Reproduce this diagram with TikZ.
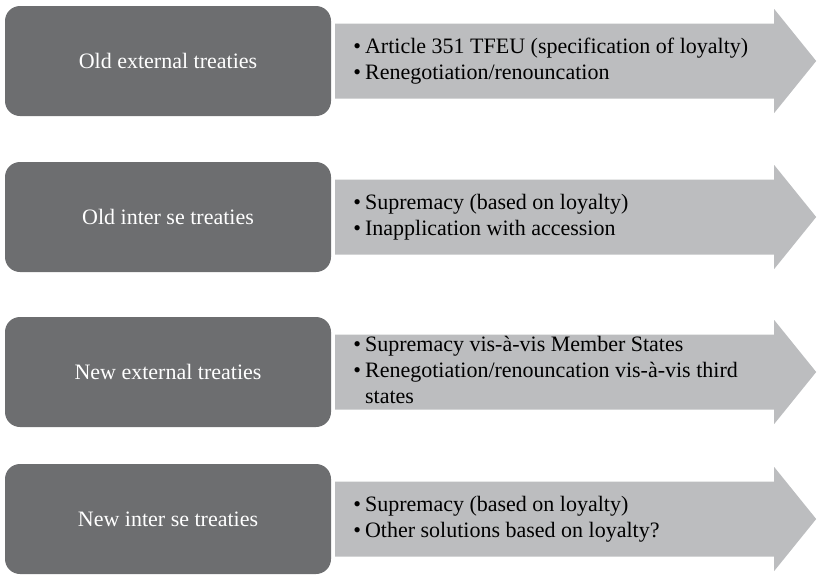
\documentclass[tikz,border=0pt]{standalone}
\usepackage{fontspec}
\setmainfont{Liberation Serif}
\usetikzlibrary{positioning}
\definecolor{boxgray}{HTML}{6D6E70}
\definecolor{arrowgray}{HTML}{BCBDBF}
\tikzset{
  treaty/.style={fill=boxgray, rounded corners=15pt, minimum width=326pt,
    minimum height=110pt, text=white, font=\fontsize{22}{26}\selectfont},
  points/.style={right=22pt of #1, inner sep=0pt, text=black,
    font=\fontsize{22}{26}\selectfont},
  shaft/.style={fill=arrowgray}
}

\begin{document}
\begin{tikzpicture}[x=1pt, y=-1pt]
        \useasboundingbox (0,0) rectangle (817,574);
        % left boxes
        \node[treaty] (oldext) at (168,61) {Old external treaties};
        \node[treaty] (oldinter) at (168,217) {Old inter se treaties};
        \node[treaty] (newext) at (168,372) {New external treaties};
        \node[treaty] (newinter) at (168,519) {New inter se treaties};
        % arrows
        \fill[shaft] ([shift={(4,-37.5)}]oldext.east) -- ++(439,0) -- ++(0,-14.5)
            -- ++(42,52) -- ++(-42,52) -- ++(0,-14.5) -- ++(-439,0) -- cycle;
        \fill[shaft] ([shift={(4,-37.5)}]oldinter.east) -- ++(439,0) -- ++(0,-14.5)
            -- ++(42,52) -- ++(-42,52) -- ++(0,-14.5) -- ++(-439,0) -- cycle;
        \fill[shaft] ([shift={(4,-37.5)}]newext.east) -- ++(439,0) -- ++(0,-14.5)
            -- ++(42,52) -- ++(-42,52) -- ++(0,-14.5) -- ++(-439,0) -- cycle;
        \fill[shaft] ([shift={(4,-37.5)}]newinter.east) -- ++(439,0) -- ++(0,-14.5)
            -- ++(42,52) -- ++(-42,52) -- ++(0,-14.5) -- ++(-439,0) -- cycle;
        % bullet texts
        \node[points=oldext] (oldextpts) {\begin{tabular}{@{}l@{\hspace{4pt}}l@{}}
            \textbullet & Article 351 TFEU (specification of loyalty)\\
            \textbullet & Renegotiation/renouncation
        \end{tabular}};
        \node[points=oldinter] (oldinterpts) {\begin{tabular}{@{}l@{\hspace{4pt}}l@{}}
            \textbullet & Supremacy (based on loyalty)\\
            \textbullet & Inapplication with accession
        \end{tabular}};
        \node[points=newext] (newextpts) {\begin{tabular}{@{}l@{\hspace{4pt}}l@{}}
            \textbullet & Supremacy vis-à-vis Member States\\
            \textbullet & Renegotiation/renouncation vis-à-vis third\\
            & states
        \end{tabular}};
        \node[points=newinter] (newinterpts) {\begin{tabular}{@{}l@{\hspace{4pt}}l@{}}
            \textbullet & Supremacy (based on loyalty)\\
            \textbullet & Other solutions based on loyalty?
        \end{tabular}};
    \end{tikzpicture}
\end{document}
